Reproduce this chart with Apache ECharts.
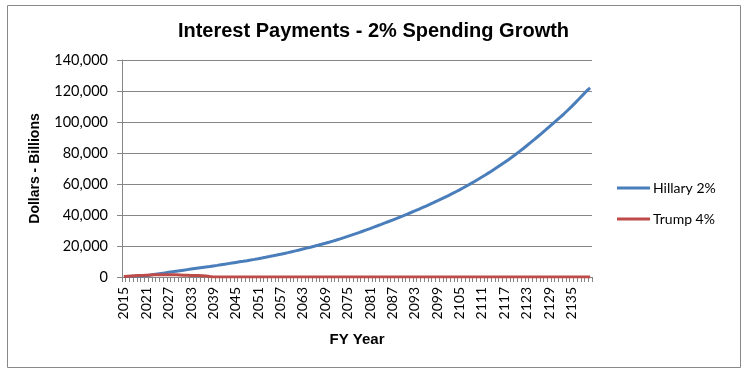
<!DOCTYPE html>
<html>
<head>
<meta charset="utf-8">
<script src="https://cdn.jsdelivr.net/npm/echarts@6/dist/echarts.min.js"></script>
<style>
html,body{margin:0;padding:0;background:#fff;}
#chart{width:747px;height:376px;}
</style>
</head>
<body>
<div id="chart"></div>
<script>
var titleText = 'Interest Payments - 2% Spending Growth';
var xAxisTitle = 'FY Year';
var yAxisTitle = 'Dollars - Billions';
var firstYear = 2015, lastYear = 2140;
var years = [];
for (var y = firstYear; y <= lastYear; y++) years.push(String(y));

var seriesNames = ['Hillary 2%', 'Trump 4%'];

var hillary = [
  300, 380, 470, 570, 680, 800, 950, 1200, 1560, 1920,
  2280, 2640, 3000, 3360, 3720, 4080, 4420, 4760, 5100, 5440,
  5780, 6120, 6460, 6800, 7150, 7500, 7880, 8260, 8640, 9020,
  9400, 9780, 10160, 10550, 10950, 11380, 11820, 12270, 12730, 13200,
  13680, 14170, 14670, 15180, 15730, 16290, 16860, 17440, 18030, 18620,
  19220, 19830, 20450, 21090, 21750, 22430, 23130, 23860, 24620, 25400,
  26190, 27000, 27820, 28660, 29510, 30380, 31260, 32150, 33050, 33960,
  34880, 35810, 36750, 37700, 38660, 39630, 40610, 41610, 42630, 43670,
  44720, 45790, 46870, 47970, 49080, 50200, 51350, 52530, 53740, 54980,
  56250, 57550, 58880, 60240, 61630, 63050, 64500, 65980, 67490, 69030,
  70600, 72200, 73840, 75520, 77240, 79000, 80850, 82750, 84700, 86650,
  88630, 90640, 92680, 94740, 96820, 98930, 101000, 103100, 105300, 107590,
  109950, 112360, 114820, 117330, 119890, 122000
];

var trump = [
  300, 450, 600, 750, 900, 1050, 1200, 1300, 1400, 1450,
  1500, 1500, 1500, 1450, 1400, 1300, 1200, 1100, 1000, 950,
  900, 800, 650, 300, 0, 0, 0, 0, 0, 0,
  0, 0, 0, 0, 0, 0, 0, 0, 0, 0,
  0, 0, 0, 0, 0, 0, 0, 0, 0, 0,
  0, 0, 0, 0, 0, 0, 0, 0, 0, 0,
  0, 0, 0, 0, 0, 0, 0, 0, 0, 0,
  0, 0, 0, 0, 0, 0, 0, 0, 0, 0,
  0, 0, 0, 0, 0, 0, 0, 0, 0, 0,
  0, 0, 0, 0, 0, 0, 0, 0, 0, 0,
  0, 0, 0, 0, 0, 0, 0, 0, 0, 0,
  0, 0, 0, 0, 0, 0, 0, 0, 0, 0,
  0, 0, 0, 0, 0, 0
];

var yMin = 0, yMax = 140000, yInterval = 20000;

var chart = echarts.init(document.getElementById('chart'), null, {renderer: 'canvas'});
var labelFont = 'Lato, "Open Sans", sans-serif';
chart.setOption({
  animation: false,
  backgroundColor: '#ffffff',
  graphic: [{
    type: 'rect',
    shape: {x: 7.5, y: 5.5, width: 733, height: 362},
    style: {fill: 'none', stroke: '#888888', lineWidth: 1},
    silent: true
  }],
  title: {
    text: titleText,
    left: 'center',
    top: 16,
    textStyle: {
      fontFamily: '"Liberation Sans Narrow", "Arial Narrow", "Liberation Sans", sans-serif',
      fontWeight: 'bold',
      fontSize: 20,
      color: '#000'
    }
  },
  legend: {
    orient: 'vertical',
    left: 612,
    top: 176,
    itemWidth: 33,
    itemHeight: 3,
    itemGap: 17,
    icon: 'rect',
    textStyle: {fontFamily: labelFont, fontSize: 14, color: '#000', padding: [0, 0, 0, -2]},
    data: seriesNames
  },
  grid: {left: 122, right: 155, top: 60, bottom: 99, containLabel: false},
  xAxis: {
    type: 'category',
    data: years,
    boundaryGap: true,
    name: xAxisTitle,
    nameLocation: 'middle',
    nameGap: 55,
    nameTextStyle: {fontFamily: '"Liberation Sans", Arial, sans-serif', fontWeight: 'bold', fontSize: 15, color: '#000'},
    axisLine: {show: true, lineStyle: {color: '#868686', width: 1}},
    axisTick: {show: true, interval: 0, length: 5, lineStyle: {color: '#868686'}},
    axisLabel: {
      interval: 5,
      rotate: 90,
      fontFamily: labelFont,
      fontSize: 14,
      color: '#000',
      margin: 10
    },
    splitLine: {show: false}
  },
  yAxis: {
    type: 'value',
    min: yMin,
    max: yMax,
    interval: yInterval,
    name: yAxisTitle,
    nameLocation: 'middle',
    nameGap: 80,
    nameTextStyle: {fontFamily: '"Liberation Sans", Arial, sans-serif', fontWeight: 'bold', fontSize: 14, color: '#000'},
    axisLine: {show: true, lineStyle: {color: '#868686', width: 1}},
    axisTick: {show: true, length: 5, lineStyle: {color: '#868686'}},
    axisLabel: {
      fontFamily: labelFont,
      fontSize: 14.5,
      color: '#000',
      margin: 14,
      formatter: function (v) { return v.toLocaleString('en-US'); }
    },
    splitLine: {show: true, lineStyle: {color: '#868686', width: 1}}
  },
  series: [
    {
      name: seriesNames[0],
      type: 'line',
      data: hillary,
      showSymbol: false,
      symbol: 'none',
      lineStyle: {color: '#4A7EBB', width: 3},
      itemStyle: {color: '#4A7EBB'}
    },
    {
      name: seriesNames[1],
      type: 'line',
      data: trump,
      showSymbol: false,
      symbol: 'none',
      lineStyle: {color: '#BE4B48', width: 3},
      itemStyle: {color: '#BE4B48'}
    }
  ]
});
</script>
</body>
</html>
